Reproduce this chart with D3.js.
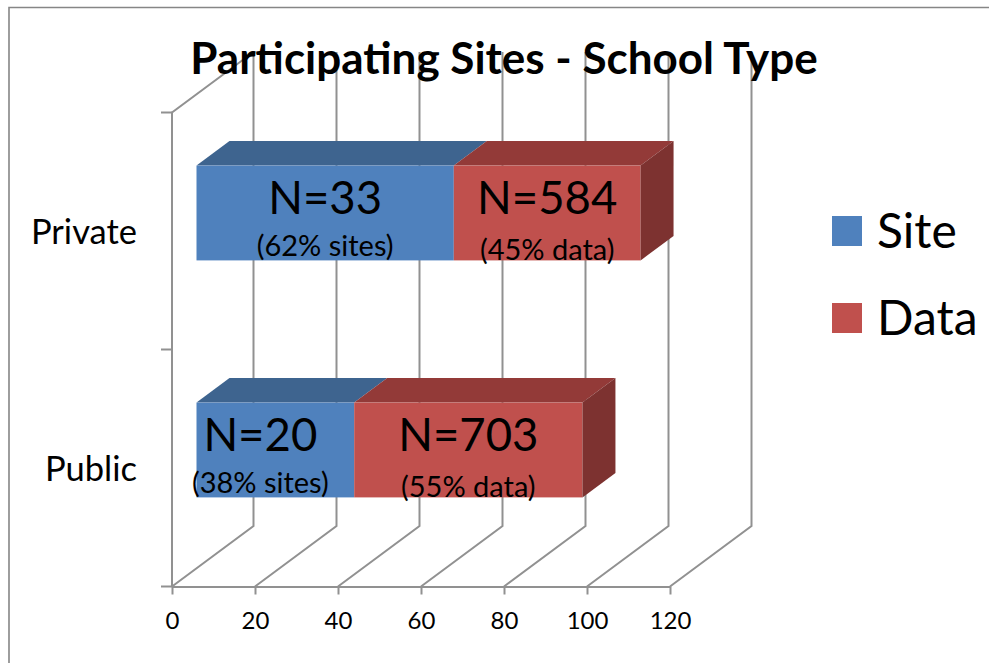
<!DOCTYPE html>
<html>
<head>
<meta charset="utf-8">
<script src="https://cdn.jsdelivr.net/npm/d3@7"></script>
<style>
  html, body { margin: 0; padding: 0; background: #fff; }
  text { font-family: Lato, "Noto Sans", sans-serif; fill: #000; }
</style>
</head>
<body>
<svg id="chart" width="989" height="663"></svg>
<script>
// Stacked 3D-style bar chart: share of sites and of data by school type.
const categories = ["Private", "Public"];
const seriesNames = ["Site", "Data"];
const siteValues = [62, 38];
const dataValues = [45, 55];
const siteCounts = [33, 20];
const dataCounts = [584, 703];
const xTicks = [0, 20, 40, 60, 80, 100, 120];
const chartTitle = "Participating Sites - School Type";

const colors = {
  Site: { front: "#4f81bd", top: "#3e648f", side: "#324f73" },
  Data: { front: "#c0504d", top: "#933a38", side: "#7d3230" }
};
const gridColor = "#919191";

const svg = d3.select("#chart");

const x = d3.scaleLinear().domain([0, 120]).range([172, 670]);
const y = d3.scaleBand().domain(categories).range([112.5, 586.5]);

// Oblique projection: the back wall sits up and to the right of the front plane.
const wall = { dx: 81.5, dy: -60.5 };
const gap = { dx: 24.5, dy: -18 };
const depth = { dx: 33, dy: -24.5 };
const barHeight = y.bandwidth() * 0.4;

const pts = a => a.map(p => p.join(",")).join(" ");

// Outer chart frame
svg.append("path")
  .attr("d", "M9,663V7.5H989")
  .attr("fill", "none").attr("stroke", "#868686").attr("stroke-width", 1.6);

// Walls and floor grid
const grid = svg.append("g").attr("fill", "none").attr("stroke", gridColor).attr("stroke-width", 2);
const [yTop, yBottom] = y.range();
xTicks.forEach(t => {
  const px = x(t);
  grid.append("path").attr("d",
    `M${px},${yBottom}L${px + wall.dx},${yBottom + wall.dy}V${yTop + wall.dy}`);
});
grid.append("path").attr("d",
  `M${x(0)},${yBottom}V${yTop}L${x(0) + wall.dx},${yTop + wall.dy}`);
[yTop, yTop + y.step(), yBottom].forEach(py => {
  grid.append("line").attr("x1", x(0) - 11).attr("x2", x(0)).attr("y1", py).attr("y2", py);
});

// Value axis along the front of the floor
const xAxis = d3.axisBottom(x).tickValues(xTicks).tickSize(8).tickSizeOuter(0).tickPadding(17);
const axisG = svg.append("g").attr("transform", `translate(0,${yBottom})`).call(xAxis);
axisG.selectAll("line").attr("stroke", gridColor).attr("stroke-width", 2);
axisG.select(".domain").attr("stroke", gridColor).attr("stroke-width", 2);
axisG.selectAll("text").attr("font-size", 24).style("font-family", "Lato, sans-serif").attr("fill", "#000");

// Category labels
svg.append("g").selectAll("text").data(categories).join("text")
  .attr("x", 137)
  .attr("y", d => y(d) + y.bandwidth() / 2 + 13)
  .attr("text-anchor", "end")
  .attr("font-size", 34.5)
  .text(d => d);

// Bars: each segment is a front face, a top face and, on the last one, a side face
const xFront = v => x(v) + gap.dx;
const barsG = svg.append("g");
categories.forEach((cat, i) => {
  const yFront = y(cat) + y.bandwidth() / 2 + gap.dy - barHeight / 2;
  const segments = [
    { name: "Site", from: 0, to: siteValues[i] },
    { name: "Data", from: siteValues[i], to: siteValues[i] + dataValues[i] }
  ];
  segments.forEach(s => {
    const c = colors[s.name];
    const x0 = xFront(s.from), x1 = xFront(s.to);
    barsG.append("polygon").attr("fill", c.top).attr("points", pts([
      [x0, yFront], [x0 + depth.dx, yFront + depth.dy],
      [x1 + depth.dx, yFront + depth.dy], [x1, yFront]
    ]));
    barsG.append("rect").attr("fill", c.front)
      .attr("x", x0).attr("y", yFront).attr("width", x1 - x0).attr("height", barHeight);
  });
  const last = segments[1], xEnd = xFront(last.to);
  barsG.append("polygon").attr("fill", colors.Data.side).attr("points", pts([
    [xEnd, yFront], [xEnd + depth.dx, yFront + depth.dy],
    [xEnd + depth.dx, yFront + barHeight + depth.dy], [xEnd, yFront + barHeight]
  ]));

  // Data labels: count on the first line, share on the second
  const labels = [
    { seg: segments[0], n: siteCounts[i], pct: siteValues[i], word: "sites", nudge: cat === "Public" ? -15 : 0 },
    { seg: segments[1], n: dataCounts[i], pct: dataValues[i], word: "data", nudge: 0 }
  ];
  labels.forEach(l => {
    const cx = (xFront(l.seg.from) + xFront(l.seg.to)) / 2 + l.nudge;
    barsG.append("text").attr("x", cx).attr("y", yFront + 48)
      .attr("text-anchor", "middle").attr("font-size", 45.5).text(`N=${l.n}`);
    barsG.append("text").attr("x", cx).attr("y", yFront + (l.word === "data" ? 94 : 90))
      .attr("text-anchor", "middle").attr("font-size", 29).text(`(${l.pct}% ${l.word})`);
  });
});

// Legend
const legend = svg.append("g");
const legendY = d3.scalePoint().domain(seriesNames).range([231, 318]);
seriesNames.forEach(name => {
  legend.append("rect").attr("x", 832).attr("y", legendY(name) - 15)
    .attr("width", 30).attr("height", 30).attr("fill", colors[name].front);
  legend.append("text").attr("x", 877).attr("y", legendY(name) + 17)
    .attr("font-size", 48).text(name);
});

// Title is drawn last so it sits over the grid lines
svg.append("text").attr("x", 504).attr("y", 74)
  .attr("text-anchor", "middle").attr("font-size", 44).attr("font-weight", 700)
  .text(chartTitle);
</script>
</body>
</html>
